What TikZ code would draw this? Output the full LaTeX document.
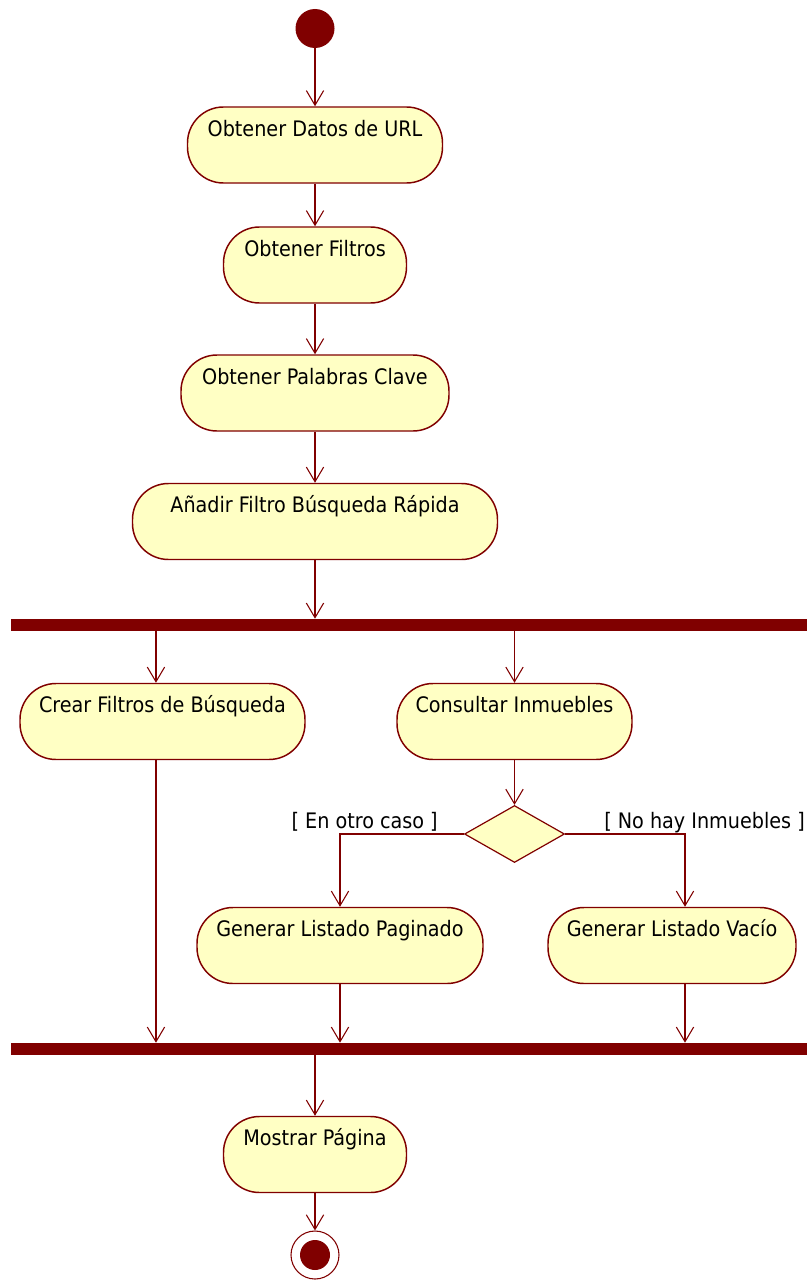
\documentclass[tikz,border=0pt]{standalone}
\usepackage{fontspec}
\setmainfont{DejaVu Sans Condensed}
\usetikzlibrary{arrows.meta,shapes.geometric}
\definecolor{umlred}{HTML}{800000}
\definecolor{umlfill}{HTML}{FFFFC4}
\newcommand\pxu{0.75pt}
\begin{document}
\begin{tikzpicture}[x=0.75pt,y=-0.75pt,
  txt/.style={font=\fontsize{16}{18}\selectfont, text=black},
  activity/.style={txt, draw=umlred, fill=umlfill, line width=1.1pt,
    rounded corners=27pt, inner xsep=0pt, inner ysep=10.75pt,
    text height=11pt, text depth=24.5pt},
  bar/.style={fill=umlred, inner sep=0pt, minimum width=796*\pxu, minimum height=12*\pxu},
  flow/.style={draw=umlred, line width=0.9pt,
    -{Straight Barb[length=11pt,width=13pt,line width=0.8pt]}},
  guard/.style={txt, inner sep=0pt}]
\useasboundingbox (0,0) rectangle (807,1281);

% initial and final states
\node[circle, fill=umlred, inner sep=0pt, minimum size=39*\pxu] (start) at (315,28.5) {};
\node[circle, draw=umlred, fill=white, line width=0.8pt, inner sep=0pt, minimum size=48*\pxu] (final) at (315,1255) {};
\node[circle, fill=umlred, inner sep=0pt, minimum size=30*\pxu] (finaldot) at (final.center) {};

% activities
\node[activity, minimum width=255*\pxu] (datos) at (315,145) {Obtener Datos de URL};
\node[activity, minimum width=183*\pxu] (filtros) at (315,265) {Obtener Filtros};
\node[activity, minimum width=268*\pxu] (palabras) at (315,393) {Obtener Palabras Clave};
\node[activity, minimum width=365*\pxu] (anadir) at (315,521.5) {Añadir Filtro Búsqueda Rápida};
\node[activity, minimum width=285*\pxu] (crear) at (162.5,721.5) {Crear Filtros de Búsqueda};
\node[activity, minimum width=235*\pxu] (consultar) at (514.5,721.5) {Consultar Inmuebles};
\node[activity, minimum width=286*\pxu] (paginado) at (340,945.5) {Generar Listado Paginado};
\node[activity, minimum width=248*\pxu] (vacio) at (672,945.5) {Generar Listado Vacío};
\node[activity, minimum width=183*\pxu] (mostrar) at (315,1154.5) {Mostrar Página};

% fork / join bars
\node[bar] (fork) at (409,625) {};
\node[bar] (join) at (409,1049) {};

% decision
\node[diamond, draw=umlred, fill=umlfill, line width=0.9pt, inner sep=0pt,
  minimum width=100*\pxu, minimum height=57*\pxu] (dec) at (514.5,834) {};

% guards
\node[guard, anchor=base east] (gotro) at (438,828) {[ En otro caso ]};
\node[guard, anchor=base west] (gno) at (604,828) {[ No hay Inmuebles ]};

% off-centre connector points
\coordinate (crearin) at ([xshift=-4.9pt]crear.north);
\coordinate (crearout) at ([xshift=-4.9pt]crear.south);
\coordinate (vacioin) at ([xshift=9.75pt]vacio.north);
\coordinate (vaciout) at ([xshift=9.75pt]vacio.south);

% flows
\draw[flow] (start.south) -- (datos.north);
\draw[flow] (datos.south) -- (filtros.north);
\draw[flow] (filtros.south) -- (palabras.north);
\draw[flow] (palabras.south) -- (anadir.north);
\draw[flow] (anadir.south) -- (anadir.south |- fork.north);
\draw[flow] (fork.south -| crearin) -- (crearin);
\draw[flow] (fork.south -| consultar.north) -- (consultar.north);
\draw[flow] (consultar.south) -- (dec.north);
\draw[flow] (dec.west) -| (paginado.north);
\draw[flow] (dec.east) -| (vacioin);
\draw[flow] (crearout) -- (crearout |- join.north);
\draw[flow] (paginado.south) -- (paginado.south |- join.north);
\draw[flow] (vaciout) -- (vaciout |- join.north);
\draw[flow] (join.south -| mostrar.north) -- (mostrar.north);
\draw[flow] (mostrar.south) -- (final.north);
\end{tikzpicture}
\end{document}
